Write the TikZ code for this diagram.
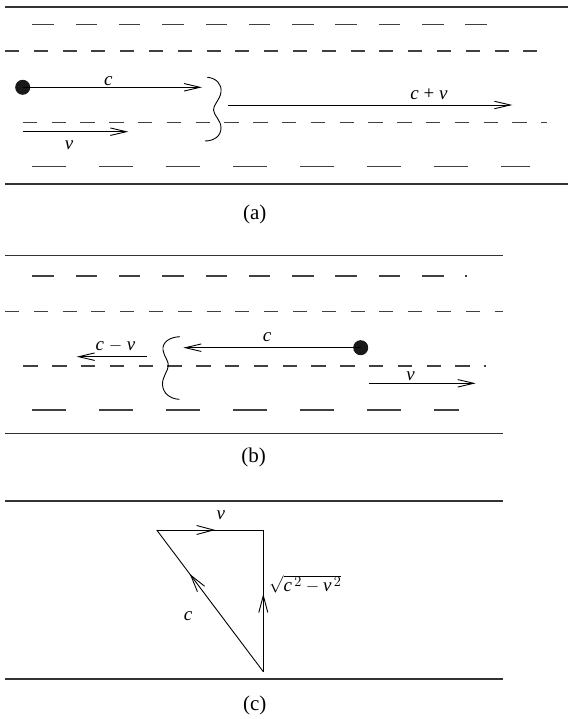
\documentclass[tikz,border=0pt]{standalone}
\usepackage{fontspec}
\setmainfont{Liberation Serif}
\usetikzlibrary{arrows.meta,decorations.markings}
\tikzset{
  road/.style={line width=1.1pt, black!80},
  lane/.style={line width=1.1pt, black!75},
  shortdash/.style={lane, dash pattern=on 14pt off 14.8pt},
  middash/.style={lane, dash pattern=on 14.5pt off 14.3pt},
  longdash/.style={lane, dash pattern=on 21.5pt off 21.8pt},
  widedash/.style={lane, dash pattern=on 33.5pt off 33.5pt},
  barb/.style={line width=0.9pt, -{Straight Barb[length=16pt,width=7.5pt]}},
  ball/.style={circle, fill=black!90, minimum size=15pt, inner sep=0pt},
  lbl/.style={anchor=base, inner sep=0pt, font=\fontsize{19}{21}\selectfont},
  captxt/.style={anchor=base, inner sep=0pt, font=\fontsize{21}{23}\selectfont},
  wave/.style={line width=0.9pt},
  tri/.style={line width=0.9pt},
  midarrow/.style={postaction={decorate, decoration={markings,
     mark=at position #1 with {\arrow[line width=0.9pt]{Straight Barb[length=17pt,width=9pt]}}}}}
}
\begin{document}
\begin{tikzpicture}[x=1pt,y=-1pt]
\useasboundingbox (0,0) rectangle (568,719);

% ---------------- panel (a) ----------------
\draw[road] (5,7) -- (568,7);
\draw[road] (5,184) -- (568,184);
\draw[longdash] (32.3,24.3) -- (487,24.3);
\draw[shortdash] (5,51) -- (538,51);
\draw[middash] (22.7,122.7) -- (547,122.7);
\draw[widedash] (32.3,166.7) -- (530,166.7);

\node[ball] (dotA) at (22.7,87.3) {};
\coordinate (tipA) at (202,87.3);
\draw[barb] (dotA.center) -- (tipA);
\node[lbl] (cA) at (108.3,85.7) {\textit{c}};

\coordinate (vAs) at (22.7,131.7);
\coordinate (vAe) at (128.3,131.7);
\draw[barb] (vAs) -- (vAe);
\node[lbl] (vA) at (69,150) {\textit{v}};

\coordinate (cvAs) at (228.3,105);
\coordinate (cvAe) at (512.3,105);
\draw[barb] (cvAs) -- (cvAe);
\node[lbl] (cvA) at (429,100) {\textit{c} + \textit{v}};

\draw[wave] (207.3,77.3) .. controls (216,78) and (222,84) .. (221,92)
  .. controls (220,100) and (213,105) .. (213.5,110)
  .. controls (214,116) and (221,120) .. (221,128)
  .. controls (221,136) and (214,141) .. (205,141);

\node[captxt] (capA) at (254.7,219.3) {(a)};

% ---------------- panel (b) ----------------
\draw[road] (5,255.7) -- (503.3,255.7);
\draw[road] (5,433.3) -- (503.3,433.3);
\draw[longdash] (32.3,276) -- (467,276);
\draw[shortdash] (5,311.7) -- (503.3,311.7);
\draw[middash] (23.3,366) -- (486,366);
\draw[widedash] (32.3,410) -- (459,410);

\node[ball] (dotB) at (360.7,347.7) {};
\coordinate (tipB) at (183.3,347.7);
\draw[barb] (dotB.center) -- (tipB);
\node[lbl] (cB) at (267,341) {\textit{c}};

\coordinate (cvBs) at (147.3,356.7);
\coordinate (cvBe) at (76.7,356.7);
\draw[barb] (cvBs) -- (cvBe);
\node[lbl] (cvB) at (115.5,350) {\textit{c} $-$ \textit{v}};

\coordinate (vBs) at (369,383.3);
\coordinate (vBe) at (475.7,383.3);
\draw[barb] (vBs) -- (vBe);
\node[lbl] (vB) at (410.7,380.7) {\textit{v}};

\draw[wave] (180,336.7) .. controls (170,337) and (162,342) .. (163,350)
  .. controls (164,357) and (169,361) .. (168.3,366)
  .. controls (168,371) and (162,377) .. (162.5,385)
  .. controls (163,393) and (170,399) .. (179.3,399.3);

\node[captxt] (capB) at (253.7,462.7) {(b)};

% ---------------- panel (c) ----------------
\draw[road] (5,501) -- (503.3,501);
\draw[road] (5,679) -- (503.3,679);

\coordinate (TL) at (156.7,530);
\coordinate (TR) at (263.3,530);
\coordinate (BT) at (263.3,671.7);
\draw[tri, midarrow=0.55] (TL) -- (TR);
\draw[tri, midarrow=0.55] (BT) -- (TR);
\draw[tri, midarrow=0.69] (BT) -- (TL);

\node[lbl] (vC) at (220.8,519) {\textit{v}};
\node[lbl] (cC) at (188,620) {\textit{c}};
\node[lbl, anchor=base west] (rootC) at (269,591.7) {$\sqrt{\textit{c}^{\,2}-\textit{v}^{\,2}}$};

\node[captxt] (capC) at (254.7,710) {(c)};
\end{tikzpicture}
\end{document}
